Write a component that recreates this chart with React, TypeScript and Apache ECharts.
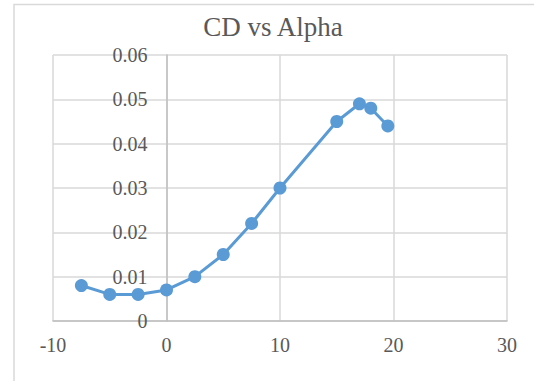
import React, { useEffect, useRef } from "react";
import * as echarts from "echarts";

const alpha = [-7.5, -5, -2.5, 0, 2.5, 5, 7.5, 10, 15, 17, 18, 19.5];
const cd = [0.008, 0.006, 0.006, 0.007, 0.01, 0.015, 0.022, 0.03, 0.045, 0.049, 0.048, 0.044];
const titleText = "CD vs Alpha";

export default function App() {
  const ref = useRef<HTMLDivElement>(null);
  useEffect(() => {
    if (!ref.current) return;
    const chart = echarts.init(ref.current, undefined, { renderer: "svg" });
    const font = "Liberation Serif";
    chart.setOption({
      animation: false,
      backgroundColor: "#ffffff",
      title: {
        text: titleText,
        left: 268,
        top: 8,
        textAlign: "center",
        textStyle: { fontFamily: font, fontSize: 27, fontWeight: "normal", color: "#595959" },
      },
      graphic: [
        {
          type: "rect",
          shape: { x: 14, y: 4.5, width: 600, height: 500 },
          style: { fill: "none", stroke: "#d9d9d9", lineWidth: 1.5 },
          silent: true,
        },
      ],
      grid: { left: 53, top: 55, right: 27, bottom: 60, outerBoundsMode: "none", containLabel: false },
      xAxis: {
        type: "value",
        min: -10,
        max: 30,
        interval: 10,
        axisLine: { show: true, onZero: true, lineStyle: { color: "#bfbfbf", width: 1.5 } },
        axisTick: { show: false },
        axisLabel: { fontFamily: font, fontSize: 20, color: "#595959", margin: 14 },
        splitLine: { show: true, lineStyle: { color: "#d9d9d9", width: 1.5 } },
      },
      yAxis: {
        type: "value",
        min: 0,
        max: 0.06,
        interval: 0.01,
        offset: -113.5,
        axisLine: { show: true, onZero: false, lineStyle: { color: "#bfbfbf", width: 1.5 } },
        axisTick: { show: false },
        axisLabel: { fontFamily: font, fontSize: 20, color: "#595959", margin: 19 },
        splitLine: { show: true, lineStyle: { color: "#d9d9d9", width: 1.5 } },
      },
      series: [
        {
          type: "line",
          data: alpha.map((a, i) => [a, cd[i]]),
          symbol: "circle",
          symbolSize: 13,
          lineStyle: { color: "#5b9bd5", width: 3 },
          itemStyle: { color: "#5b9bd5" },
        },
      ],
    });
    return () => chart.dispose();
  }, []);
  return (
    <div
      ref={ref}
      style={{ position: "fixed", left: 0, top: 0, width: 534, height: 381, background: "#fff" }}
    />
  );
}
